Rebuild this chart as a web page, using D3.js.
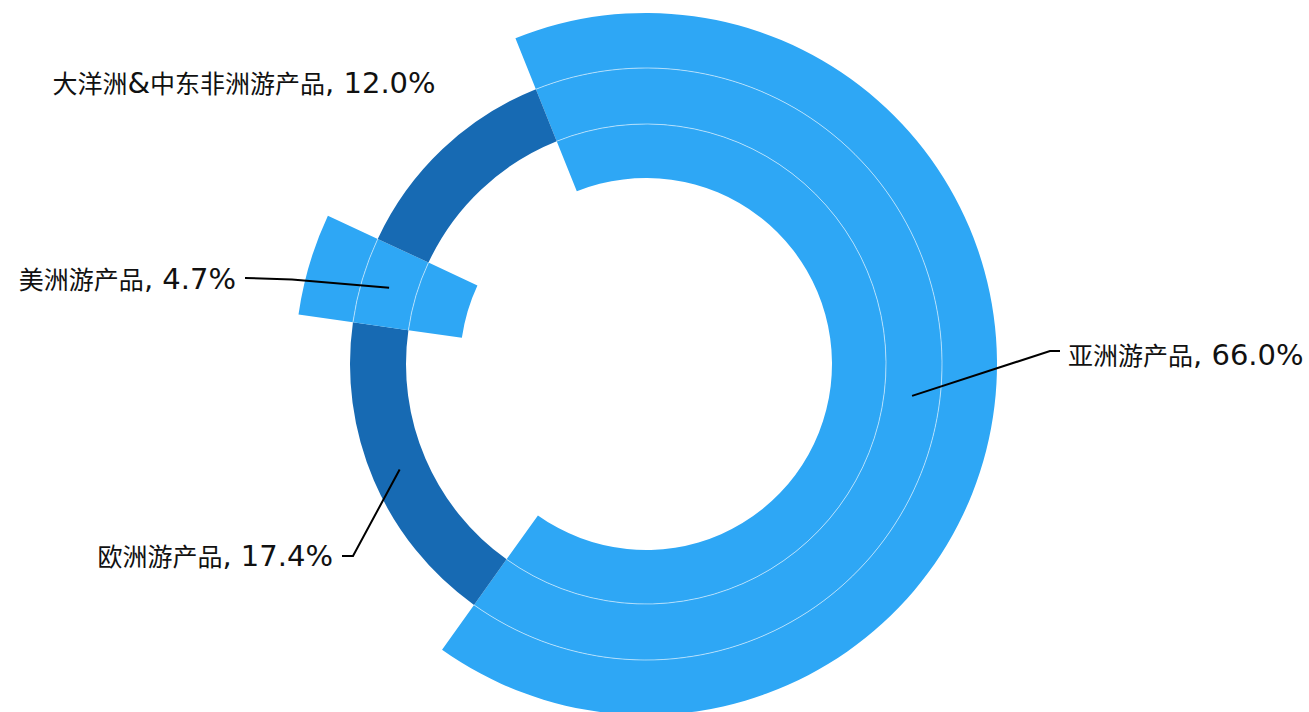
<!DOCTYPE html>
<html>
<head>
<meta charset="utf-8">
<script src="https://cdn.jsdelivr.net/npm/d3@7"></script>
<style>
  body { margin: 0; background: #fff; }
  svg { display: block; }
</style>
</head>
<body>
<svg id="chart" width="1309" height="712"></svg>
<script>
// Share of outbound tour products by destination region
const regions = ["亚洲游产品", "欧洲游产品", "美洲游产品", "大洋洲&中东非洲游产品"];
const shares = [66.0, 17.4, 4.7, 12.0];
// regions that extend through all three rings (the rest only fill the middle ring)
const spansAllRings = [true, false, true, false];

// layout
const width = 1309, height = 712;
const cx = 646, cy = 364;
const ringEdges = [186, 240, 296, 351];
const startDeg = -21.84;
const lightBlue = "#2ea7f5";
const darkBlue = "#176ab3";

// label placement: elbow + end of each leader line, text anchor
const labelLayout = [
  { elbow: [1050, 351], end: [1060, 351], tx: 1068, ty: 365, anchor: "start", line: true },
  { elbow: [353, 556], end: [342, 556], tx: 333, ty: 566, anchor: "end", line: true },
  { elbow: [292, 279.5], end: [245, 278], tx: 236, ty: 289, anchor: "end", line: true },
  { elbow: null, end: null, tx: 244, ty: 93, anchor: "middle", line: false }
];

const svg = d3.select("#chart");
svg.append("rect").attr("width", width).attr("height", height).attr("fill", "#fff");

const g = svg.append("g").attr("transform", `translate(${cx},${cy})`);

const start = startDeg * Math.PI / 180;
const pie = d3.pie().sort(null).value(d => d)
  .startAngle(start).endAngle(start + 2 * Math.PI);
const slices = pie(shares);

// three concentric rings
for (let ring = 0; ring < 3; ring++) {
  const arc = d3.arc().innerRadius(ringEdges[ring]).outerRadius(ringEdges[ring + 1]);
  g.append("g").selectAll("path")
    .data(slices.filter((d, i) => ring === 1 || spansAllRings[i]))
    .join("path")
    .attr("d", arc)
    .attr("fill", d => spansAllRings[d.index] ? lightBlue : darkBlue);
}

// faint dividers between the rings of the light segments
[ringEdges[1], ringEdges[2]].forEach(r => {
  const divider = d3.arc().innerRadius(r).outerRadius(r);
  g.append("g").selectAll("path")
    .data(slices.filter((d, i) => spansAllRings[i]))
    .join("path")
    .attr("d", divider)
    .attr("fill", "none")
    .attr("stroke", "rgba(255,255,255,0.38)")
    .attr("stroke-width", 0.8);
});

// label text: CJK runs and Latin runs use different faces
function addRuns(textSel, str) {
  const runs = str.match(/[\u3400-\u9fff]+|[^\u3400-\u9fff]+/g);
  runs.forEach(run => {
    const cjk = /[\u3400-\u9fff]/.test(run);
    textSel.append("tspan")
      .attr("font-family", cjk ? "'Noto Sans CJK SC', sans-serif" : "'DejaVu Sans', sans-serif")
      .attr("font-size", cjk ? 25 : 29)
      .text(run);
  });
}

// leader lines start at the middle of the middle ring
const midArc = d3.arc().innerRadius(ringEdges[1]).outerRadius(ringEdges[2]);
slices.forEach((d, i) => {
  const L = labelLayout[i];
  if (L.line) {
    const c = midArc.centroid(d);
    const pts = [[cx + c[0], cy + c[1]], L.elbow, L.end];
    svg.append("path")
      .attr("d", d3.line()(pts))
      .attr("fill", "none")
      .attr("stroke", "#000")
      .attr("stroke-width", 2);
  }
  const t = svg.append("text")
    .attr("x", L.tx).attr("y", L.ty)
    .attr("text-anchor", L.anchor)
    .attr("fill", "#111");
  addRuns(t, regions[i] + ", " + shares[i].toFixed(1) + "%");
});
</script>
</body>
</html>
